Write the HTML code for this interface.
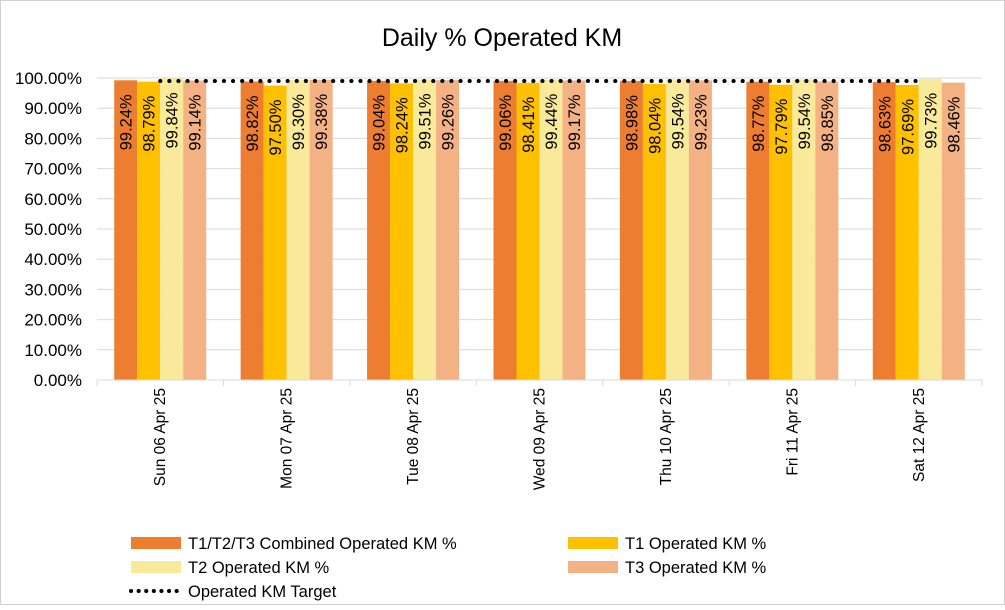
<!DOCTYPE html>
<html><head><meta charset="utf-8"><style>
body{margin:0;background:#fff;font-family:"Liberation Sans",Arial,sans-serif}
svg text{font-family:"Liberation Sans",Arial,sans-serif}
</style></head><body>
<svg id="chart" width="1005" height="605">
<rect x="0.5" y="0.5" width="1004" height="604" fill="#fff" stroke="#d0d0d0"/>
<text x="502" y="46" text-anchor="middle" font-size="25" fill="#000">Daily % Operated KM</text>
<g id="grid"></g><g id="bars"></g><g id="labels"></g><g id="target"></g><g id="axes"></g>
<g id="legend" font-size="16.5" fill="#000">
<rect x="131" y="537" width="50" height="12" fill="#ED7D31"/>
<text x="188" y="549">T1/T2/T3 Combined Operated KM %</text>
<rect x="568" y="537" width="50" height="12" fill="#FFC000"/>
<text x="625" y="549">T1 Operated KM %</text>
<rect x="131" y="561" width="50" height="12" fill="#F9E99A"/>
<text x="188" y="573">T2 Operated KM %</text>
<rect x="568" y="561" width="50" height="12" fill="#F4B183"/>
<text x="625" y="573">T3 Operated KM %</text>
<line x1="131" y1="591" x2="181" y2="591" stroke="#000" stroke-width="4" stroke-dasharray="0.1,7.5" stroke-linecap="round"/>
<text x="188" y="597">Operated KM Target</text>
</g>
</svg>
<script>
const categories=["Sun 06 Apr 25","Mon 07 Apr 25","Tue 08 Apr 25","Wed 09 Apr 25","Thu 10 Apr 25","Fri 11 Apr 25","Sat 12 Apr 25"];
const combined=[99.24,98.82,99.04,99.06,98.98,98.77,98.63];
const t1=[98.79,97.50,98.24,98.41,98.04,97.79,97.69];
const t2=[99.84,99.30,99.51,99.44,99.54,99.54,99.73];
const t3=[99.14,99.38,99.26,99.17,99.23,98.85,98.46];
const target=[99,99,99,99,99,99,99];
const yTicks=[0,10,20,30,40,50,60,70,80,90,100];
const NS="http://www.w3.org/2000/svg";
const L=97,R=982,T=78,B=380;
const cw=(R-L)/categories.length;
const y=v=>B-(v/100)*(B-T);
const xc=i=>L+cw*(i+0.5);
function mk(tag,attrs,parent){const e=document.createElementNS(NS,tag);for(const k in attrs)e.setAttribute(k,attrs[k]);document.getElementById(parent).appendChild(e);return e;}
yTicks.forEach(v=>{
  const g=mk('line',{x1:L,x2:R,y1:y(v),y2:y(v),stroke:'#d9d9d9','stroke-width':1},'grid');
  
  
  const t=mk('text',{x:82,y:y(v)+6,'text-anchor':'end','font-size':17,fill:'#000'},'axes');
  t.textContent=v.toFixed(2)+'%';
  
  
});
const series=[combined,t1,t2,t3];
const colors=["#ED7D31","#FFC000","#F9E99A","#F4B183"];
const names=["combined","t1","t2","t3"];
const bw=23;
categories.forEach((c,i)=>{
  series.forEach((s,j)=>{
    const x=xc(i)-2*bw+j*bw;
    const r=mk('rect',{x:x,y:y(s[i]),width:bw,height:B-y(s[i]),fill:colors[j]},'bars');
    
    
    const tx=x+bw/2+6, ty=y(s[i])+14;
    const t=mk('text',{x:tx,y:ty,'font-size':16.5,fill:'#000','text-anchor':'end',transform:`rotate(-90 ${tx} ${ty})`},'labels');
    t.textContent=s[i].toFixed(2)+'%';
    
    
  });
  const lx=xc(i)+5, ly=388;
  const t=mk('text',{x:lx,y:ly,'font-size':15.5,fill:'#000','text-anchor':'end',transform:`rotate(-90 ${lx} ${ly})`},'axes');
  t.textContent=c;
  
  
});
for(let i=0;i<=categories.length;i++){
  const tk=mk('line',{x1:L+cw*i,x2:L+cw*i,y1:B,y2:B+6,stroke:'#d9d9d9'},'axes');
  
  
}
const ax=mk('line',{x1:L,x2:R,y1:B,y2:B,stroke:'#d9d9d9'},'axes');


const pts=target.map((v,i)=>xc(i)+','+y(v)).join(' ');
const pl=mk('polyline',{points:pts,fill:'none',stroke:'#000','stroke-width':4,'stroke-dasharray':'0.1,9','stroke-linecap':'round'},'target');


</script>
</body></html>
